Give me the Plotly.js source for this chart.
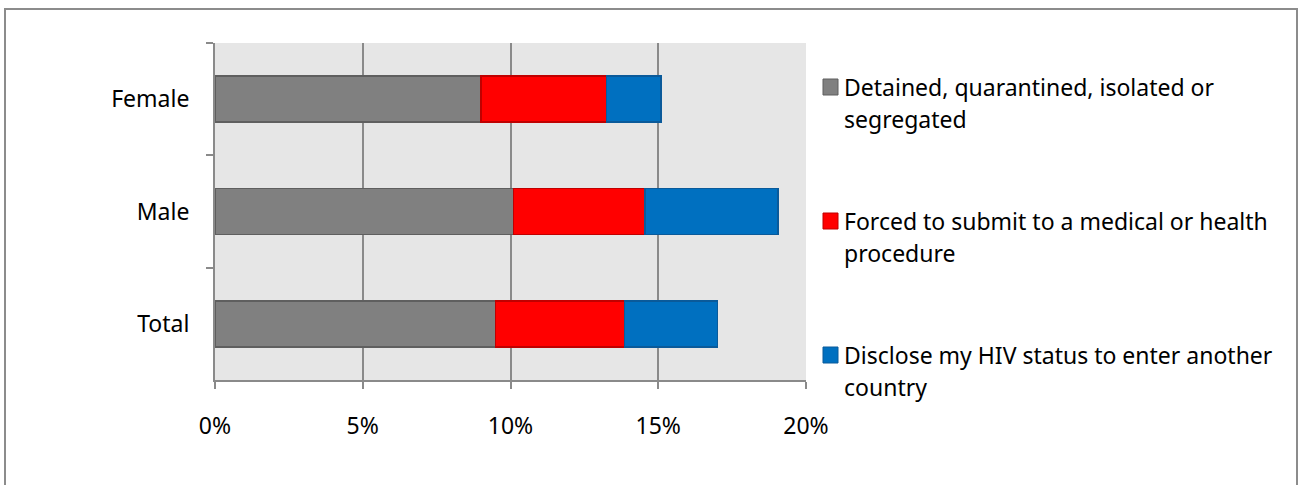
<!DOCTYPE html>
<html>
<head>
<meta charset="utf-8">
<script src="https://cdn.plot.ly/plotly-3.0.1.min.js"></script>
<style>
  html, body { margin: 0; padding: 0; background: #ffffff; }
  #wrap { position: relative; width: 1303px; height: 485px; overflow: hidden; }
  #chart { position: absolute; left: 0; top: 0; width: 1303px; height: 485px; }
  #frame { position: absolute; left: 4px; top: 8px; width: 1294px; height: 490px;
           border: 2px solid #8c8c8c; box-sizing: border-box; pointer-events: none; }
</style>
</head>
<body>
<div id="wrap">
  <div id="chart"></div>
  <div id="frame"></div>
</div>
<script>
// ---- data ----
const categories = ["Female", "Male", "Total"];
const seriesNames = [
  "Detained, quarantined, isolated or segregated",
  "Forced to submit to a medical or health procedure",
  "Disclose my HIV status to enter another country"
];
const legendLines = [
  ["Detained, quarantined, isolated or", "segregated"],
  ["Forced to submit to a medical or health", "procedure"],
  ["Disclose my HIV status to enter another", "country"]
];
const detained = [9.0, 10.1, 9.5];
const forced = [4.25, 4.45, 4.35];
const disclose = [1.85, 4.5, 3.15];
const xTickVals = [0, 5, 10, 15, 20];
const xTickText = ["0%", "5%", "10%", "15%", "20%"];

// ---- styles ----
const fillColors = ["#808080", "#ff0000", "#0070c0"];
const lineColors = ["#5f5f5f", "#c00000", "#0a5a9a"];
const FONT = "Noto Sans, Open Sans, sans-serif";
const FS = 23;

const W = 1303, H = 485;
const mL = 215, mR = W - 806, mT = 43, mB = H - 380;
const plotW = W - mL - mR, plotH = H - mT - mB;
const px2x = p => (p - mL) / plotW;
const py2y = p => (H - mB - p) / plotH;

const values = [detained, forced, disclose];
const traces = values.map((v, i) => ({
  type: "bar",
  orientation: "h",
  name: seriesNames[i],
  y: categories,
  x: v,
  marker: { color: fillColors[i], line: { color: lineColors[i], width: 1.5 } },
  showlegend: false,
  hoverinfo: "x+name"
}));

// custom legend (squares + text lines)
const legendCenters = [87, 221, 355];
const lineGap = 32;
const shapes = [];
const annotations = [];
legendCenters.forEach((cy, i) => {
  shapes.push({
    type: "rect", xref: "paper", yref: "paper",
    x0: px2x(823), x1: px2x(838), y0: py2y(cy + 8), y1: py2y(cy - 8),
    fillcolor: fillColors[i], line: { color: lineColors[i], width: 1 }
  });
  legendLines[i].forEach((t, j) => {
    annotations.push({
      xref: "paper", yref: "paper", x: px2x(842), y: py2y(cy + j * lineGap),
      xanchor: "left", yanchor: "middle", showarrow: false,
      text: t, font: { family: FONT, size: FS, color: "#000000" }
    });
  });
});

const layout = {
  width: W, height: H,
  margin: { l: mL, r: mR, t: mT, b: mB, pad: 0 },
  paper_bgcolor: "#ffffff",
  plot_bgcolor: "#e6e6e6",
  barmode: "stack",
  bargap: 0.59,
  font: { family: FONT, size: FS, color: "#000000" },
  xaxis: {
    range: [0, 20],
    tickvals: xTickVals,
    ticktext: xTickText,
    showgrid: true, gridcolor: "#8a8a8a", gridwidth: 2,
    zeroline: false,
    showline: true, linecolor: "#8a8a8a", linewidth: 2,
    ticks: "outside", ticklen: 7, tickcolor: "#8a8a8a", tickwidth: 2,
    ticklabelstandoff: 17,
    tickfont: { family: FONT, size: FS, color: "#000000" },
    fixedrange: true
  },
  yaxis: {
    type: "category",
    categoryorder: "array",
    categoryarray: categories,
    autorange: "reversed",
    showgrid: false,
    zeroline: false,
    showline: true, linecolor: "#8a8a8a", linewidth: 2,
    ticks: "outside", ticklen: 7, tickcolor: "#8a8a8a", tickwidth: 2,
    tickson: "boundaries",
    ticklabelstandoff: 19,
    tickfont: { family: FONT, size: FS, color: "#000000" },
    fixedrange: true
  },
  shapes: shapes,
  annotations: annotations
};

Plotly.newPlot("chart", traces, layout, { displayModeBar: false, staticPlot: true });
</script>
</body>
</html>
